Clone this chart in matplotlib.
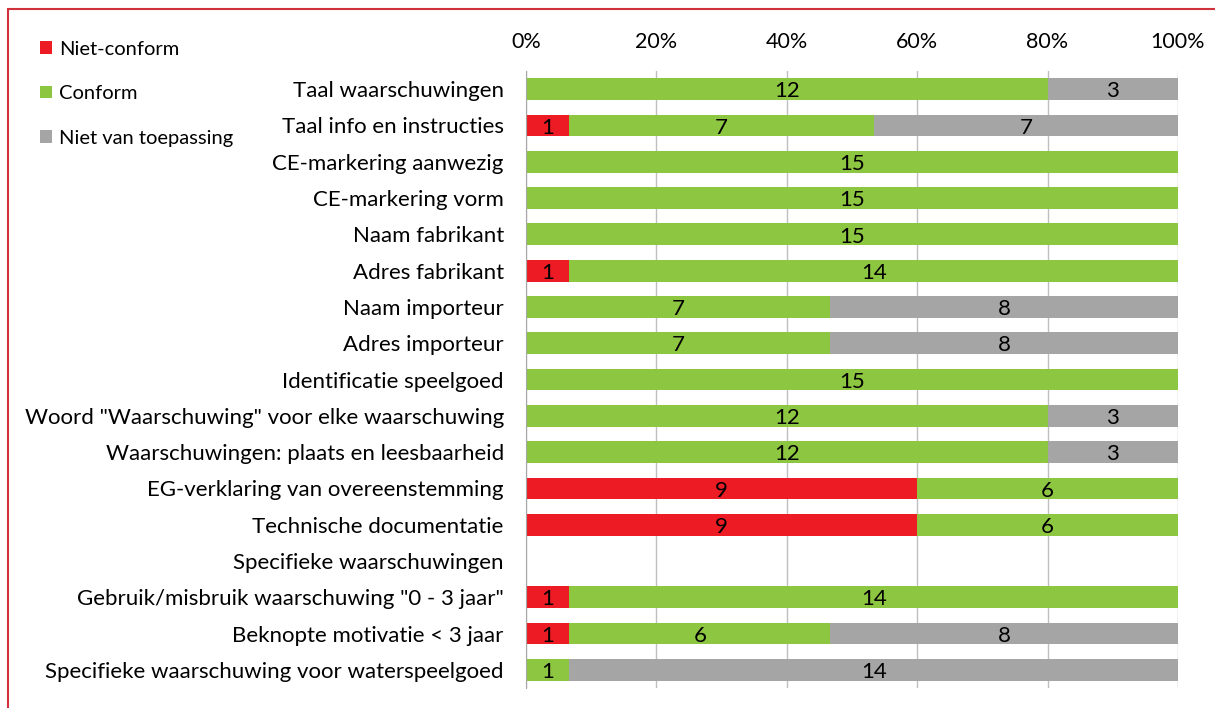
import numpy as np
import matplotlib
matplotlib.use("Agg")
import matplotlib.pyplot as plt
from matplotlib.patches import Rectangle

plt.rcParams['font.family'] = ['Lato', 'DejaVu Sans']

# data
categories = [
    'Taal waarschuwingen',
    'Taal info en instructies',
    'CE-markering aanwezig',
    'CE-markering vorm',
    'Naam fabrikant',
    'Adres fabrikant',
    'Naam importeur',
    'Adres importeur',
    'Identificatie speelgoed',
    'Woord "Waarschuwing" voor elke waarschuwing',
    'Waarschuwingen: plaats en leesbaarheid',
    'EG-verklaring van overeenstemming',
    'Technische documentatie',
    'Specifieke waarschuwingen',
    'Gebruik/misbruik waarschuwing "0 - 3 jaar"',
    'Beknopte motivatie < 3 jaar',
    'Specifieke waarschuwing voor waterspeelgoed',
]
niet_conform = [0, 1, 0, 0, 0, 1, 0, 0, 0, 0, 0, 9, 9, 0, 1, 1, 0]
conform = [12, 7, 15, 15, 15, 14, 7, 7, 15, 12, 12, 6, 6, 0, 14, 6, 1]
niet_van_toepassing = [3, 7, 0, 0, 0, 0, 8, 8, 0, 3, 3, 0, 0, 0, 0, 8, 14]

series = [
    ('Niet-conform', niet_conform, '#ED1C24'),
    ('Conform', conform, '#8DC641'),
    ('Niet van toepassing', niet_van_toepassing, '#A5A5A5'),
]

totals = np.array(niet_conform) + np.array(conform) + np.array(niet_van_toepassing)
safe_totals = np.where(totals == 0, 1, totals)

fig = plt.figure(figsize=(12.15, 7.08), dpi=100)
ax = fig.add_axes([0.4329, 0.0282, 0.9695 - 0.4329, 0.8997 - 0.0282])

fs = 16

y = np.arange(len(categories))
left = np.zeros(len(categories))
for name, vals, color in series:
    vals = np.array(vals)
    share = vals / safe_totals
    ax.barh(y, share, left=left, height=0.6, color=color, label=name, zorder=2)
    for i in range(len(vals)):
        if vals[i] > 0:
            ax.text(left[i] + share[i] / 2, y[i] + 0.06, str(vals[i]), ha='center', va='center',
                    fontsize=fs, color='black', zorder=3)
    left = left + share

ax.set_xlim(0, 1)
ax.set_ylim(len(categories) - 0.5, -0.5)
ax.set_yticks(y)
ax.set_yticklabels(categories, fontsize=fs)
ax.set_xticks(np.linspace(0, 1, 6))
ax.set_xticklabels(['0%', '20%', '40%', '60%', '80%', '100%'], fontsize=15.5)
ax.xaxis.tick_top()
ax.tick_params(axis='x', length=0, pad=14)
ax.tick_params(axis='y', length=0, pad=16)
ax.grid(axis='x', color='#BFBFBF', linewidth=1, zorder=0)
for s in ['top', 'right', 'bottom']:
    ax.spines[s].set_visible(False)
ax.spines['left'].set_color('#A6A6A6')
ax.spines['left'].set_zorder(4)

handles, labels = ax.get_legend_handles_labels()
fig.legend(handles, labels, loc='upper left', bbox_to_anchor=(0.018, 0.968),
           frameon=False, fontsize=14.5, handlelength=0.6, handleheight=0.6,
           handletextpad=0.35, labelspacing=1.36)

# red border of the chart area
fig.patches.append(Rectangle((8 / 1215, -0.1), 1.2, 1.1 - 9 / 708,
                             transform=fig.transFigure, fill=False,
                             edgecolor='#D0323C', linewidth=1.5))

fig.savefig('out.png', dpi=100)
